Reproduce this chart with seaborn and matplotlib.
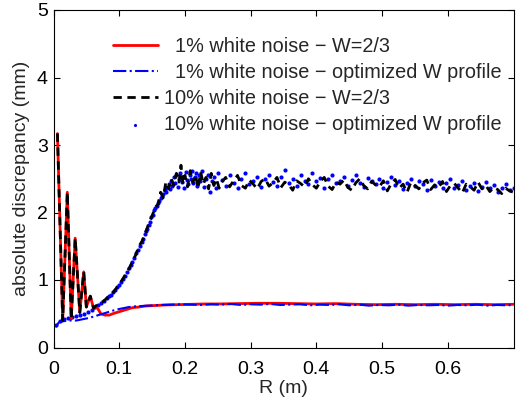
import numpy as np
import pandas as pd
import matplotlib
matplotlib.use("Agg")
import matplotlib.pyplot as plt
import seaborn as sns
from matplotlib.ticker import FixedLocator

# ---- data ----
# oscillating start, shared by both W=2/3 curves
osc_x = [0.006, 0.014, 0.021, 0.027, 0.033, 0.040, 0.046, 0.050, 0.056, 0.061]
osc_y = [3.17, 0.40, 2.30, 0.42, 1.62, 0.52, 1.12, 0.60, 0.76, 0.58]

# 1% white noise - W=2/3 (after the oscillations)
red_x = [0.066, 0.072, 0.078, 0.085, 0.090, 0.100, 0.110, 0.120, 0.130, 0.140,
         0.150, 0.170, 0.190, 0.210, 0.230, 0.250, 0.280, 0.310, 0.340, 0.370,
         0.400, 0.430, 0.460, 0.490, 0.520, 0.550, 0.580, 0.610, 0.640, 0.670, 0.700]
red_y = [0.60, 0.50, 0.48, 0.48, 0.50, 0.53, 0.56, 0.59, 0.60, 0.615,
         0.62, 0.63, 0.635, 0.64, 0.645, 0.645, 0.65, 0.655, 0.655, 0.65,
         0.645, 0.65, 0.64, 0.635, 0.64, 0.635, 0.64, 0.635, 0.64, 0.635, 0.64]

# 1% white noise - optimized W profile
opt1_x = [0.003, 0.008, 0.015, 0.025, 0.035, 0.045, 0.055, 0.065, 0.075, 0.085,
          0.095, 0.105, 0.115, 0.125, 0.135, 0.145, 0.155, 0.165, 0.180, 0.195,
          0.210, 0.225, 0.240, 0.255, 0.270, 0.285, 0.300, 0.315, 0.330, 0.345,
          0.360, 0.375, 0.390, 0.405, 0.420, 0.435, 0.450, 0.465, 0.480, 0.495,
          0.510, 0.525, 0.540, 0.555, 0.570, 0.585, 0.600, 0.615, 0.630, 0.645,
          0.660, 0.675, 0.690, 0.700]
opt1_y = [0.30, 0.37, 0.39, 0.40, 0.40, 0.42, 0.44, 0.47, 0.50, 0.53,
          0.56, 0.58, 0.60, 0.61, 0.615, 0.62, 0.625, 0.63, 0.635, 0.64,
          0.635, 0.63, 0.64, 0.635, 0.645, 0.63, 0.64, 0.635, 0.645, 0.63,
          0.635, 0.64, 0.625, 0.635, 0.63, 0.64, 0.625, 0.635, 0.62, 0.63,
          0.625, 0.635, 0.62, 0.63, 0.625, 0.63, 0.62, 0.63, 0.625, 0.635,
          0.62, 0.63, 0.625, 0.63]

# 10% white noise - W=2/3 (after the oscillations)
w10_x = [0.065, 0.070, 0.075, 0.080, 0.085, 0.090, 0.095, 0.100, 0.105, 0.110,
         0.115, 0.120, 0.125, 0.130, 0.135, 0.140, 0.145, 0.150, 0.155, 0.159,
         0.163, 0.167, 0.171, 0.175, 0.179, 0.183, 0.187, 0.191, 0.194, 0.197,
         0.200, 0.204, 0.208, 0.212, 0.216, 0.220, 0.224, 0.228, 0.232, 0.236,
         0.240, 0.244, 0.248, 0.252]
w10_y = [0.62, 0.66, 0.68, 0.72, 0.77, 0.81, 0.87, 0.93, 1.01, 1.09,
         1.17, 1.27, 1.37, 1.50, 1.58, 1.70, 1.84, 1.95, 2.08, 2.12,
         2.30, 2.22, 2.45, 2.35, 2.50, 2.40, 2.58, 2.45, 2.70, 2.42,
         2.55, 2.38, 2.62, 2.44, 2.56, 2.36, 2.60, 2.42, 2.52, 2.35,
         2.58, 2.40, 2.50, 2.36]

# 10% white noise - optimized W profile (rise)
opt10_x = [0.004, 0.010, 0.016, 0.022, 0.028, 0.034, 0.040, 0.046, 0.052, 0.058,
           0.063, 0.068, 0.073, 0.077, 0.081, 0.085, 0.088, 0.091, 0.094, 0.097,
           0.100, 0.103, 0.106, 0.109, 0.112, 0.115, 0.118, 0.120, 0.123, 0.126,
           0.129, 0.131, 0.134, 0.136, 0.139, 0.141, 0.143, 0.145, 0.147, 0.149,
           0.151, 0.153, 0.155, 0.157, 0.159, 0.161, 0.163, 0.165, 0.167, 0.169,
           0.171, 0.173, 0.175, 0.177, 0.179, 0.181, 0.183, 0.185, 0.187, 0.189,
           0.191, 0.193, 0.195, 0.197, 0.199, 0.201, 0.203, 0.205, 0.207, 0.209,
           0.211, 0.213, 0.215, 0.217, 0.219, 0.221, 0.223, 0.226, 0.229, 0.232,
           0.235, 0.238, 0.241, 0.244, 0.247, 0.250]
opt10_y = [0.33, 0.40, 0.42, 0.43, 0.45, 0.46, 0.48, 0.50, 0.53, 0.56,
           0.60, 0.63, 0.66, 0.69, 0.73, 0.76, 0.78, 0.82, 0.85, 0.89,
           0.93, 0.97, 1.01, 1.06, 1.12, 1.18, 1.22, 1.27, 1.33, 1.40,
           1.45, 1.50, 1.57, 1.61, 1.68, 1.72, 1.76, 1.82, 1.86, 1.93,
           1.97, 2.03, 2.06, 2.10, 2.14, 2.17, 2.22, 2.25, 2.28, 2.33,
           2.30, 2.38, 2.42, 2.35, 2.46, 2.40, 2.52, 2.44, 2.55, 2.38,
           2.50, 2.58, 2.45, 2.53, 2.36, 2.60, 2.48, 2.42, 2.56, 2.50,
           2.61, 2.44, 2.52, 2.58, 2.40, 2.55, 2.47, 2.62, 2.38, 2.50,
           2.56, 2.30, 2.46, 2.52, 2.36, 2.58]

# plateau, both 10% series share these R values
plat_x = [0.256, 0.262, 0.268, 0.274, 0.280, 0.286, 0.292, 0.298, 0.304, 0.310,
          0.316, 0.322, 0.328, 0.334, 0.340, 0.346, 0.352, 0.358, 0.364, 0.370,
          0.376, 0.382, 0.388, 0.394, 0.400, 0.406, 0.412, 0.418, 0.424, 0.430,
          0.436, 0.442, 0.448, 0.454, 0.460, 0.466, 0.472, 0.478, 0.484, 0.490,
          0.496, 0.502, 0.508, 0.514, 0.520, 0.526, 0.532, 0.538, 0.544, 0.550,
          0.556, 0.562, 0.568, 0.574, 0.580, 0.586, 0.592, 0.598, 0.604, 0.610,
          0.616, 0.622, 0.628, 0.634, 0.640, 0.646, 0.652, 0.658, 0.664, 0.670,
          0.676, 0.682, 0.688, 0.694, 0.700]
plat_opt10 = [2.48, 2.40, 2.55, 2.44, 2.36, 2.50, 2.58, 2.42, 2.47, 2.53,
              2.38, 2.49, 2.56, 2.45, 2.40, 2.52, 2.63, 2.44, 2.50, 2.39,
              2.55, 2.47, 2.42, 2.58, 2.46, 2.51, 2.37, 2.49, 2.56, 2.43,
              2.47, 2.53, 2.40, 2.48, 2.55, 2.44, 2.38, 2.51, 2.46, 2.42,
              2.50, 2.36, 2.45, 2.52, 2.41, 2.47, 2.35, 2.44, 2.50, 2.39,
              2.46, 2.42, 2.33, 2.48, 2.40, 2.45, 2.37, 2.43, 2.49, 2.36,
              2.41, 2.46, 2.34, 2.40, 2.44, 2.32, 2.38, 2.45, 2.36, 2.41,
              2.30, 2.37, 2.42, 2.33, 2.36]
plat_w10 = [2.45, 2.52, 2.38, 2.47, 2.55, 2.40, 2.36, 2.48, 2.42, 2.35,
            2.46, 2.50, 2.39, 2.44, 2.52, 2.37, 2.45, 2.41, 2.33, 2.47,
            2.43, 2.38, 2.50, 2.41, 2.36, 2.46, 2.52, 2.39, 2.34, 2.45,
            2.42, 2.48, 2.37, 2.33, 2.44, 2.50, 2.40, 2.35, 2.46, 2.41,
            2.38, 2.47, 2.32, 2.43, 2.49, 2.36, 2.42, 2.30, 2.45, 2.40,
            2.35, 2.44, 2.48, 2.34, 2.41, 2.37, 2.46, 2.31, 2.40, 2.43,
            2.36, 2.29, 2.42, 2.38, 2.33, 2.45, 2.35, 2.40, 2.31, 2.37,
            2.34, 2.28, 2.36, 2.32, 2.30]

labels = ["  1% white noise \u2212 W=2/3",
          "  1% white noise \u2212 optimized W profile",
          "10% white noise \u2212 W=2/3",
          "10% white noise \u2212 optimized W profile"]
xticks = [0, 0.1, 0.2, 0.3, 0.4, 0.5, 0.6]
xticklabels = ["0", "0.1", "0.2", "0.3", "0.4", "0.5", "0.6"]
yticks = [0, 1, 2, 3, 4, 5]

# ---- frames ----
df_red = pd.DataFrame({"R": osc_x + red_x, "d": osc_y + red_y})
df_opt1 = pd.DataFrame({"R": opt1_x, "d": opt1_y})
df_w10 = pd.DataFrame({"R": osc_x + w10_x + plat_x, "d": osc_y + w10_y + plat_w10})
df_opt10 = pd.DataFrame({"R": opt10_x + plat_x, "d": opt10_y + plat_opt10})

sns.set_style("ticks")
plt.rcParams["font.family"] = ["Liberation Sans", "DejaVu Sans"]
fs = 14

fig = plt.figure(figsize=(5.31, 4.09), dpi=100)
ax = fig.add_axes([53.5 / 531, (409 - 347.5) / 409, 460 / 531, 337.5 / 409])

sns.lineplot(data=df_red, x="R", y="d", ax=ax, color="#ff0000", lw=2.0,
             sort=False, estimator=None, label=labels[0])
sns.lineplot(data=df_opt1, x="R", y="d", ax=ax, color="#0000ff", lw=1.5,
             linestyle="-.", sort=False, estimator=None, label=labels[1])
sns.lineplot(data=df_w10, x="R", y="d", ax=ax, color="black", lw=2.0,
             dashes=False, sort=False, estimator=None, label=labels[2])
ax.lines[-1].set_dashes((3, 2))
sns.scatterplot(data=df_opt10, x="R", y="d", ax=ax, color="#0000ff", s=9,
                linewidth=0, label=labels[3])

ax.set_xlim(0, 0.7)
ax.set_ylim(0, 5)
ax.xaxis.set_major_locator(FixedLocator(xticks))
ax.set_xticklabels(xticklabels)
ax.set_yticks(yticks)
ax.tick_params(direction="in", length=4, width=0.8, top=True, right=True,
               labelsize=fs, colors="black")
ax.tick_params(axis="x", pad=10)
ax.tick_params(axis="y", pad=4)
for s in ax.spines.values():
    s.set_visible(True)
    s.set_linewidth(0.8)
    s.set_color("black")

ax.set_xlabel("R (m)", fontsize=fs, labelpad=1)
ax.set_ylabel("absolute discrepancy (mm)", fontsize=fs, labelpad=5)

leg = ax.legend(loc="upper left", bbox_to_anchor=(113 / 531, 1 - 37 / 409),
                bbox_transform=fig.transFigure, frameon=False,
                prop={"size": 14.3}, handlelength=2.25, handletextpad=0.3,
                labelspacing=0.36, borderpad=0, borderaxespad=0)
leg.legend_handles[-1].set_sizes([5])

fig.savefig("out.png", dpi=100)
